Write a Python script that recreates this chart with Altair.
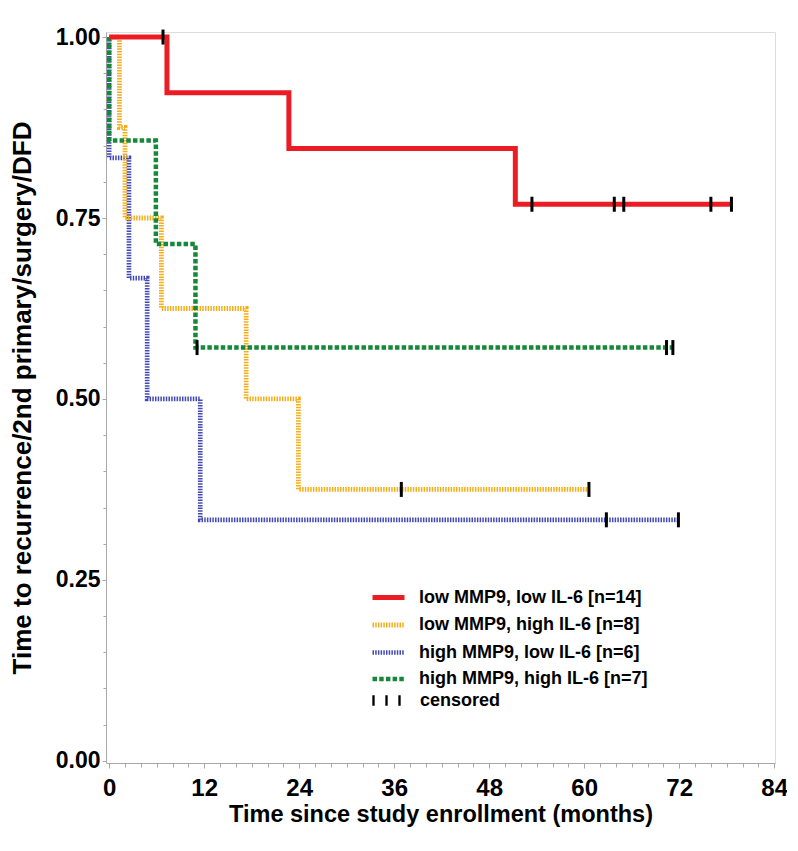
import altair as alt
import pandas as pd

# ---- data ----
groups = [
    "low MMP9, low IL-6  [n=14]",
    "low MMP9, high IL-6  [n=8]",
    "high MMP9, low IL-6  [n=6]",
    "high MMP9, high IL-6  [n=7]",
]
colors = ["#EC1C24", "#F4AE1A", "#4349B4", "#17883A"]
dashes = [[1, 0], [1.5, 1.2], [1.5, 1.2], [4.5, 2.2]]
widths = [5, 4.5, 4.5, 5]
censor_label = ["censored"]

red_t = [0, 7.3, 22.7, 51.3, 78.6]
red_s = [1.0, 0.923, 0.846, 0.769, 0.769]
orange_t = [0, 1.3, 2.0, 6.6, 17.3, 23.9, 60.6]
orange_s = [1.0, 0.875, 0.75, 0.625, 0.5, 0.375, 0.375]
blue_t = [0, 0, 2.5, 4.8, 11.5, 71.9]
blue_s = [1.0, 0.833, 0.667, 0.5, 0.333, 0.333]
green_t = [0, 0, 5.9, 10.9, 71.2]
green_s = [1.0, 0.857, 0.714, 0.571, 0.571]

red_cens_t = [6.8, 53.4, 63.8, 65.0, 76.0, 78.6]
red_cens_s = [1.0, 0.769, 0.769, 0.769, 0.769, 0.769]
orange_cens_t = [36.9, 60.6]
orange_cens_s = [0.375, 0.375]
blue_cens_t = [62.8, 71.9]
blue_cens_s = [0.333, 0.333]
green_cens_t = [11.1, 70.4, 71.2]
green_cens_s = [0.571, 0.571, 0.571]

x_major = [0, 12, 24, 36, 48, 60, 72, 84]
x_minor = list(range(0, 85, 2))
y_major = [0.0, 0.25, 0.5, 0.75, 1.0]
y_minor = [i * 0.05 for i in range(21)]

# ---- tables ----
rows = []
order = 0
for g, ts, ss in [
    (groups[2], blue_t, blue_s),
    (groups[1], orange_t, orange_s),
    (groups[3], green_t, green_s),
    (groups[0], red_t, red_s),
]:
    for t, s in zip(ts, ss):
        rows.append({"t": t, "s": s, "g": g, "o": order})
        order += 1
df = pd.DataFrame(rows)

crow = []
for ts, ss in [(red_cens_t, red_cens_s), (orange_cens_t, orange_cens_s),
               (blue_cens_t, blue_cens_s), (green_cens_t, green_cens_s)]:
    for t, s in zip(ts, ss):
        crow.append({"t": t, "s": s, "c": censor_label[0]})
cdf = pd.DataFrame(crow)

FONT = "Liberation Sans"
xs = alt.Scale(domain=[-0.4, 84.1], nice=False, zero=False)
ys = alt.Scale(domain=[-0.003, 1.007], nice=False, zero=False)

leg = alt.Legend(
    orient="none", legendX=272, legendY=555, title=None, padding=0,
    symbolType="M-2,0L2,0", symbolSize=256, labelOffset=20,
    labelFont=FONT, labelFontSize=18, labelFontWeight="bold",
    labelColor="#000000", rowPadding=6.5, labelLimit=400,
)
# three small filled bars as the "censored" symbol
tick_path = ("M-1.09,-0.4L-0.91,-0.4L-0.91,0.4L-1.09,0.4Z"
             "M-0.09,-0.4L0.09,-0.4L0.09,0.4L-0.09,0.4Z"
             "M0.91,-0.4L1.09,-0.4L1.09,0.4L0.91,0.4Z")
leg_c = alt.Legend(
    orient="none", legendX=267, legendY=655, title=None, padding=0,
    symbolType=tick_path, symbolSize=676,
    symbolFillColor="#000000", symbolStrokeColor="#000000", symbolStrokeWidth=0.5,
    symbolOpacity=1, labelOffset=20,
    labelFont=FONT, labelFontSize=18, labelFontWeight="bold",
    labelColor="#000000", labelLimit=400,
)

x_axis = alt.Axis(
    values=x_major, orient="bottom", title="Time since study enrollment (months)",
    labelFont=FONT, labelFontSize=24, labelFontWeight="bold", labelColor="#000000",
    titleFont=FONT, titleFontSize=23.5, titleFontWeight="bold", titleColor="#000000",
    tickColor="#a8a8a8", tickSize=5, domainColor="#a8a8a8", labelPadding=8,
    titlePadding=2, grid=False, labelFlush=False,
)
y_axis = alt.Axis(
    values=y_major, orient="left", format=".2f",
    title="Time to recurrence/2nd primary/surgery/DFD",
    labelFont=FONT, labelFontSize=23, labelFontWeight="bold", labelColor="#000000",
    titleFont=FONT, titleFontSize=26, titleFontWeight="bold", titleColor="#000000",
    tickColor="#a8a8a8", tickSize=4, domainColor="#a8a8a8", labelPadding=2,
    titlePadding=20, grid=False, labelFlush=False,
)
x_minor_axis = alt.Axis(values=x_minor, orient="bottom", labels=False, title=None,
                        domain=False, tickColor="#a8a8a8", tickSize=4, grid=False)
y_minor_axis = alt.Axis(values=y_minor, orient="left", labels=False, title=None,
                        domain=False, tickColor="#a8a8a8", tickSize=3, grid=False)

lines = alt.Chart(df).mark_line(interpolate="step-after", strokeCap="butt").encode(
    x=alt.X("t:Q", scale=xs, axis=x_axis),
    y=alt.Y("s:Q", scale=ys, axis=y_axis),
    color=alt.Color("g:N", scale=alt.Scale(domain=groups, range=colors), legend=leg),
    strokeDash=alt.StrokeDash("g:N", scale=alt.Scale(domain=groups, range=dashes), legend=leg),
    strokeWidth=alt.StrokeWidth("g:N", scale=alt.Scale(domain=groups, range=widths), legend=leg),
    order="o:Q",
)

cens = alt.Chart(cdf).mark_tick(orient="vertical", color="#000000", thickness=3, size=15).encode(
    x=alt.X("t:Q", scale=xs, axis=x_minor_axis),
    y=alt.Y("s:Q", scale=ys, axis=y_minor_axis),
    opacity=alt.Opacity("c:N", scale=alt.Scale(domain=censor_label, range=[1]), legend=leg_c),
)

chart = alt.layer(lines, cens).resolve_axis(x="independent", y="independent").properties(
    width=669, height=731,
    autosize=alt.AutoSizeParams(type="none"),
    padding={"left": 98, "top": 24, "right": 12, "bottom": 70},
).configure_view(stroke="#a8a8a8", strokeWidth=1).configure(background="white")

chart.save("out.html", embed_options={"renderer": "svg", "actions": False})
